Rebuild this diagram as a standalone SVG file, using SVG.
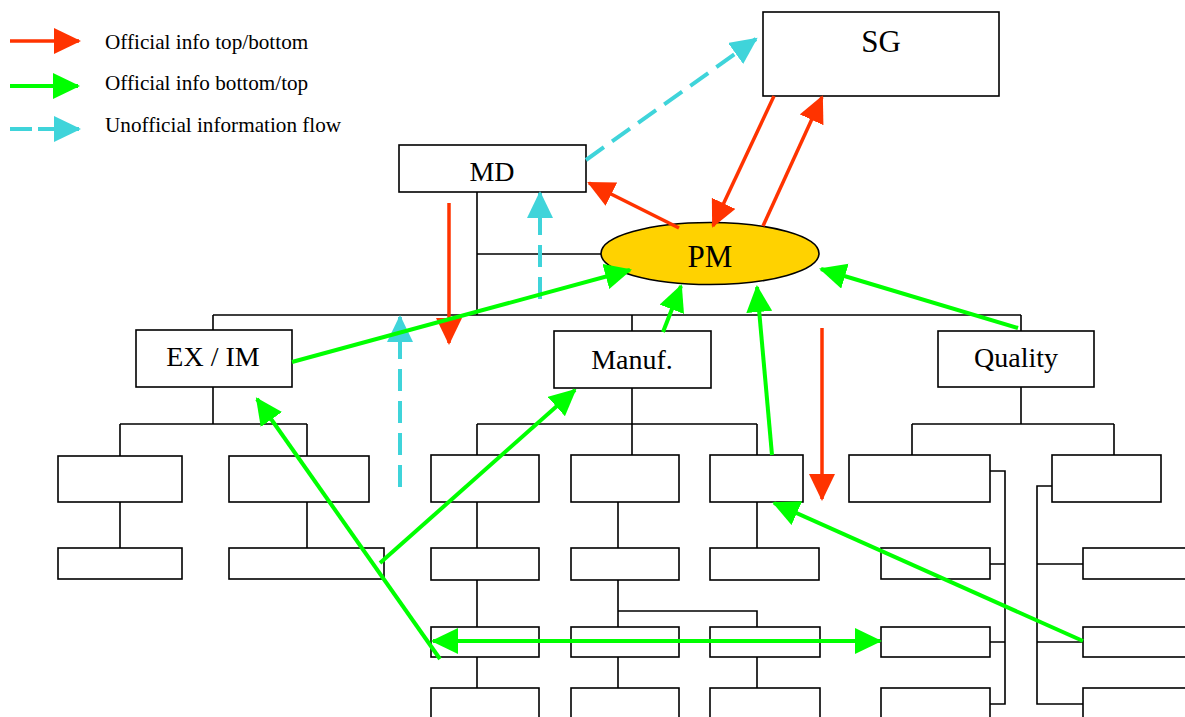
<svg xmlns="http://www.w3.org/2000/svg" width="1185" height="717" viewBox="0 0 1185 717">
<style>
  .box { fill: #ffffff; stroke: #000000; stroke-width: 1.6; }
  .tree { fill: none; stroke: #000000; stroke-width: 1.6; }
  .lbl { font-family: "Liberation Serif", "Times New Roman", serif; font-size: 28px; fill: #000000; text-anchor: middle; }
  .big { font-size: 31px; }
  .leg { font-family: "Liberation Serif", "Times New Roman", serif; font-size: 21.2px; fill: #000000; }
  .red { stroke: #FF3300; stroke-width: 3.5; fill: none; marker-end: url(#aRed); }
  .green { stroke: #00FF00; stroke-width: 4; fill: none; marker-end: url(#aGreen); }
  .cyan { stroke: #3FD4DA; stroke-width: 4; fill: none; stroke-dasharray: 22 10; marker-end: url(#aCyan); }
</style>
<defs>
  <marker id="aRed" markerUnits="userSpaceOnUse" markerWidth="28" markerHeight="28" refX="25" refY="13" orient="auto">
    <path d="M0,0 L27,13 L0,26 Z" fill="#FF3300"/>
  </marker>
  <marker id="aGreen" markerUnits="userSpaceOnUse" markerWidth="28" markerHeight="28" refX="25" refY="13" orient="auto-start-reverse">
    <path d="M0,0 L27,13 L0,26 Z" fill="#00FF00"/>
  </marker>
  <marker id="aCyan" markerUnits="userSpaceOnUse" markerWidth="28" markerHeight="28" refX="25" refY="13" orient="auto">
    <path d="M0,0 L27,13 L0,26 Z" fill="#3FD4DA"/>
  </marker>
</defs>
<rect x="0" y="0" width="1185" height="717" fill="#ffffff"/>

<g id="legend">
  <line class="red" x1="10" y1="41" x2="79" y2="41"/>
  <text class="leg" x="105" y="49">Official info top/bottom</text>
  <line class="green" x1="10" y1="86" x2="78" y2="86"/>
  <text class="leg" x="105" y="90">Official info bottom/top</text>
  <line class="cyan" x1="10" y1="129" x2="79" y2="129" style="stroke-dasharray: 22 6"/>
  <text class="leg" x="105" y="132">Unofficial information flow</text>
</g>

<g id="tree-lines" class="tree">
  <path d="M477,192 V315 M477,254 H602 M213,315 H1021 M213,315 V330 M632,315 V331 M1021,315 V331"/>
  <path d="M213,387 V424 M120,424 H307 M120,424 V456 M307,424 V456 M120,502 V548 M307,502 V548"/>
  <path d="M632,388 V424 M477,424 H757 M477,424 V455 M632,424 V455 M757,424 V455"/>
  <path d="M477,502 V548 M618,502 V548 M757,502 V548"/>
  <path d="M477,580 V627 M618,580 V627 M618,611 H757 V627"/>
  <path d="M477,657 V688 M618,657 V688 M757,657 V688"/>
  <path d="M1021,387 V424 M912,424 H1114 M912,424 V455 M1114,424 V455"/>
  <path d="M990,471 H1005 V704 H990 M1005,564 H990 M1005,642 H990"/>
  <path d="M1052,486 H1037 V704 H1083 M1037,564 H1083 M1037,642 H1083"/>
</g>

<g id="node-SG"><rect class="box" x="763" y="12" width="236" height="84"/><text class="lbl big" x="881" y="52">SG</text></g>
<g id="node-MD"><rect class="box" x="399" y="145" width="187" height="47"/><text class="lbl" x="492" y="181">MD</text></g>
<g id="node-PM"><ellipse cx="710" cy="253.5" rx="109" ry="31" fill="#FFD200" stroke="#000000" stroke-width="1.6"/><text class="lbl big" x="710" y="267">PM</text></g>
<g id="node-EXIM"><rect class="box" x="136" y="330" width="156" height="57"/><text class="lbl" x="213" y="366">EX / IM</text></g>
<g id="node-Manuf"><rect class="box" x="554" y="331" width="157" height="57"/><text class="lbl" x="632" y="369">Manuf.</text></g>
<g id="node-Quality"><rect class="box" x="938" y="331" width="156" height="56"/><text class="lbl" x="1016" y="367">Quality</text></g>

<g id="node-ex-units">
  <rect class="box" x="58" y="456" width="124" height="46"/>
  <rect class="box" x="229" y="456" width="140" height="46"/>
  <rect class="box" x="58" y="548" width="124" height="31"/>
  <rect class="box" x="229" y="548" width="155" height="31"/>
</g>
<g id="node-manuf-units">
  <rect class="box" x="431" y="455" width="108" height="47"/>
  <rect class="box" x="571" y="455" width="108" height="47"/>
  <rect class="box" x="710" y="455" width="93" height="47"/>
  <rect class="box" x="431" y="548" width="108" height="32"/>
  <rect class="box" x="571" y="548" width="108" height="32"/>
  <rect class="box" x="710" y="548" width="109" height="32"/>
  <rect class="box" x="431" y="627" width="108" height="30"/>
  <rect class="box" x="571" y="627" width="108" height="30"/>
  <rect class="box" x="710" y="627" width="110" height="30"/>
  <rect class="box" x="431" y="688" width="108" height="40"/>
  <rect class="box" x="571" y="688" width="108" height="40"/>
  <rect class="box" x="710" y="688" width="110" height="40"/>
</g>
<g id="node-quality-units">
  <rect class="box" x="849" y="455" width="141" height="47"/>
  <rect class="box" x="1052" y="455" width="109" height="47"/>
  <rect class="box" x="881" y="548" width="109" height="31"/>
  <rect class="box" x="881" y="627" width="109" height="30"/>
  <rect class="box" x="881" y="688" width="109" height="40"/>
  <rect class="box" x="1083" y="548" width="110" height="31"/>
  <rect class="box" x="1083" y="627" width="110" height="30"/>
  <rect class="box" x="1083" y="688" width="110" height="40"/>
</g>

<g id="connectors">
  <line class="cyan" x1="586" y1="160" x2="756" y2="39"/>
  <line class="cyan" x1="540" y1="299" x2="540" y2="193"/>
  <line class="cyan" x1="400" y1="487" x2="400" y2="317"/>
  <line class="red" x1="774" y1="96" x2="713" y2="226"/>
  <line class="red" x1="763" y1="226" x2="822" y2="97"/>
  <line class="red" x1="679" y1="228" x2="589" y2="183"/>
  <line class="red" x1="449" y1="203" x2="449" y2="343"/>
  <line class="red" x1="822" y1="328" x2="822" y2="499"/>
  <line class="green" x1="292" y1="362" x2="630" y2="270"/>
  <line class="green" x1="663" y1="332" x2="681" y2="286"/>
  <line class="green" x1="772" y1="455" x2="757" y2="287"/>
  <line class="green" x1="1018" y1="328" x2="821" y2="269"/>
  <line class="green" x1="380" y1="563" x2="575" y2="390"/>
  <line class="green" x1="440" y1="659" x2="257" y2="399"/>
  <line class="green" x1="433" y1="641" x2="880" y2="641" style="marker-start: url(#aGreen)"/>
  <line class="green" x1="1083" y1="641" x2="774" y2="503"/>
</g>
</svg>
